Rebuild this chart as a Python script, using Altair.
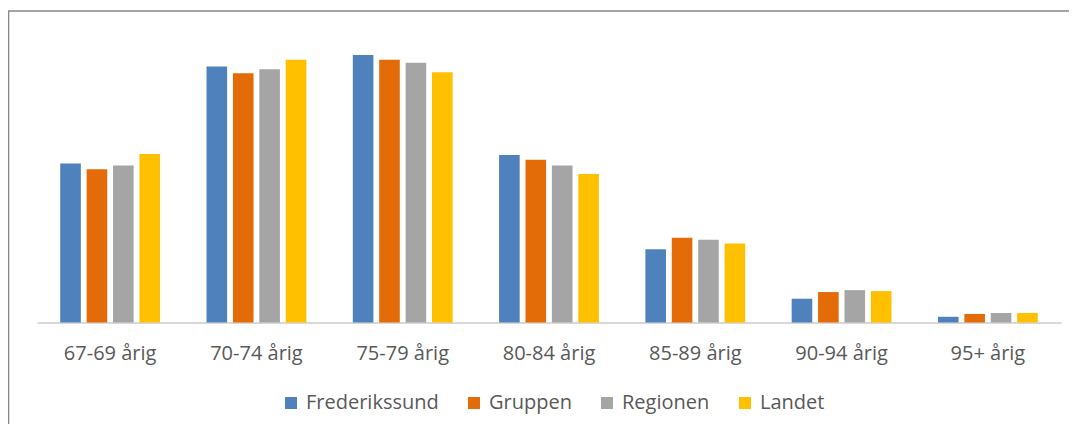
import altair as alt
import pandas as pd

ages = ["67-69 årig", "70-74 årig", "75-79 årig", "80-84 årig", "85-89 årig", "90-94 årig", "95+ årig"]
series = ["Frederikssund", "Gruppen", "Regionen", "Landet"]
frederikssund = [16.7, 26.9, 28.1, 17.6, 7.7, 2.5, 0.6]
gruppen = [16.1, 26.2, 27.6, 17.1, 8.9, 3.2, 0.9]
regionen = [16.5, 26.6, 27.3, 16.5, 8.7, 3.4, 1.0]
landet = [17.7, 27.6, 26.3, 15.6, 8.3, 3.3, 1.0]
colors = ["#4F81BD", "#E36C09", "#A5A5A5", "#FFC000"]
title_text = "Figur 10: Ældrebefolkningen sammensætning i pct. af 67+ årig pr. 1. januar 2025"

rows = []
for name, vals in zip(series, [frederikssund, gruppen, regionen, landet]):
    for a, v in zip(ages, vals):
        rows.append({"Alder": a, "Område": name, "Pct": v})
df = pd.DataFrame(rows)

W = 1024
H = 285.5

bars = alt.Chart(df).mark_bar().encode(
    x=alt.X("Alder:N", sort=ages,
            scale=alt.Scale(paddingInner=0, paddingOuter=0),
            axis=alt.Axis(title=None, labelAngle=0, ticks=False, tickSize=0,
                          domainColor="#D9D9D9", domainWidth=2,
                          labelFont="Open Sans", labelFontSize=20,
                          labelColor="#595959", labelPadding=21,
                          labelBaseline="top")),
    xOffset=alt.XOffset("Område:N", sort=series,
                        scale=alt.Scale(paddingInner=0.22, paddingOuter=0.88)),
    y=alt.Y("Pct:Q", scale=alt.Scale(domain=[0, 30], nice=False, zero=True),
            axis=None),
    color=alt.Color("Område:N", sort=series,
                    scale=alt.Scale(domain=series, range=colors),
                    legend=alt.Legend(title=None, orient="none", direction="horizontal",
                                      legendX=244, legendY=356,
                                      symbolType="square", symbolSize=144,
                                      symbolStrokeWidth=0, labelOffset=5,
                                      columnPadding=25,
                                      labelFont="Open Sans", labelFontSize=20,
                                      labelColor="#595959")),
)

frame = alt.Chart(alt.Data(values=[{}])).mark_rect(
    filled=False, stroke="#888888", strokeWidth=1.6
).encode(
    x=alt.value(-28.5), x2=alt.value(1200),
    y=alt.value(-26), y2=alt.value(600),
)

chart = alt.layer(frame, bars).properties(
    width=W, height=H,
    title=alt.TitleParams(title_text, anchor="start", dx=-37, offset=32,
                          font="DejaVu Sans", fontSize=20, fontStyle="italic",
                          fontWeight="normal", color="#000000",
                          baseline="alphabetic"),
    autosize=alt.AutoSizeParams(type="none"),
    padding={"left": 29, "top": 29, "right": 8, "bottom": 101},
).configure(background="white", view=alt.ViewConfig(stroke=None))

chart.save("out.html", embed_options={"renderer": "svg", "actions": False})
